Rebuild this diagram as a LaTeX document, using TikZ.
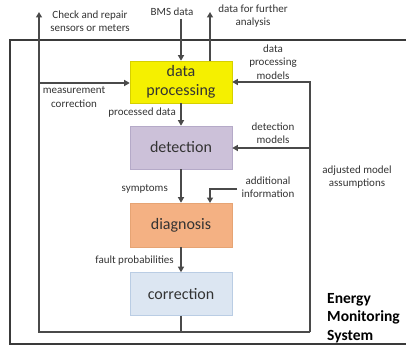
\documentclass[tikz,border=0pt]{standalone}
\usepackage{fontspec}
\setmainfont{Carlito}
\usetikzlibrary{arrows.meta,positioning,calc}
\definecolor{lc}{HTML}{4A4A4A}
\definecolor{fc}{HTML}{3A3A3A}
\definecolor{dpfill}{HTML}{F5F000}
\definecolor{dpdraw}{HTML}{D6D000}
\definecolor{detfill}{HTML}{CCC1D9}
\definecolor{detdraw}{HTML}{B5AAC8}
\definecolor{diagfill}{HTML}{F4B183}
\definecolor{diagdraw}{HTML}{E6A474}
\definecolor{corrfill}{HTML}{DCE6F2}
\definecolor{corrdraw}{HTML}{BACDE4}
\definecolor{tc}{HTML}{333333}
\begin{document}
\begin{tikzpicture}[x=1pt,y=-1pt,
  procbox/.style={rectangle, minimum width=102pt, inner sep=0pt, align=center, text=tc,
     font=\fontsize{16}{19}\selectfont, line width=0.6pt},
  lbl/.style={align=center, text=tc, inner sep=0pt, font=\fontsize{11}{13.5}\selectfont},
  arr/.style={draw=lc, line width=1.4pt, -{Triangle[length=5.5pt,width=6pt]}},
  ln/.style={draw=lc, line width=1.4pt},
  frame/.style={draw=fc, line width=2.5pt}]
\useasboundingbox (0,0) rectangle (406,347);
% outer frame
\coordinate (ftr) at (408,40);
\coordinate (ftl) at (10,40);
\coordinate (fbl) at (10,344);
\coordinate (fbr) at (408,344);
\draw[frame] (ftr) -- (ftl) -- (fbl) -- (fbr);
% boxes
\node[procbox, fill=dpfill, draw=dpdraw, minimum height=42pt] (dp) at (181,82) {data\\processing};
\node[procbox, fill=detfill, draw=detdraw, minimum height=43pt] (det) at (181,147.5) {detection};
\node[procbox, fill=diagfill, draw=diagdraw, minimum height=44pt] (diag) at (181,225) {diagnosis};
\node[procbox, fill=corrfill, draw=corrdraw, minimum height=43pt] (corr) at (181,294) {correction};
% labels
\node[lbl] (chk) at (90,21) {Check and repair\\sensors or meters};
\node[lbl] (bms) at (172,12) {BMS data};
\node[lbl] (further) at (253,16) {data for further\\analysis};
\node[lbl] (meas) at (74,97) {measurement\\correction};
\node[lbl, anchor=east] (procd) at (176,113) {processed data};
\node[lbl] (dpm) at (273,62) {data\\processing\\models};
\node[lbl] (detm) at (273,133) {detection\\models};
\node[lbl, anchor=east] (sym) at (168,189) {symptoms};
\node[lbl] (addi) at (268,187) {additional\\information};
\node[lbl, anchor=east] (fault) at (174,261) {fault probabilities};
\node[lbl] (adj) at (357,177) {adjusted model\\assumptions};
\node[align=left, anchor=west, inner sep=0pt, text=black,
      font=\fontsize{15.5}{18.5}\selectfont\bfseries] (ems) at (327,318) {Energy\\Monitoring\\System};
% coordinates
\coordinate (bmsin) at (181,19);
\coordinate (dpout) at (210,61);
\coordinate (furtherup) at (210,12);
\coordinate (lbot) at (39,332);
\coordinate (ltop) at (39,12);
\coordinate (lmeas) at (39,83);
\coordinate (rbot) at (310,332);
\coordinate (rtop) at (310,82);
\coordinate (rdet) at (310,148);
\coordinate (cbot) at (181,332);
\coordinate (addstart) at (237,189);
\coordinate (addcorner) at (210,189);
\coordinate (addend) at (210,203);
% connectors
\draw[arr] (bmsin) -- (dp.north);
\draw[arr] (dpout) -- (furtherup);
\draw[arr] (dp.south) -- (det.north);
\draw[arr] (det.south) -- (diag.north);
\draw[arr] (diag.south) -- (corr.north);
\draw[ln] (corr.south) -- (cbot);
\draw[arr] (rbot) -- (lbot) -- (ltop);
\draw[arr] (lmeas) -- (dp.west |- lmeas);
\draw[arr] (rbot) -- (rtop) -- (dp.east |- rtop);
\draw[arr] (rdet) -- (det.east |- rdet);
\draw[arr] (addstart) -- (addcorner) -- (addend);
\end{tikzpicture}
\end{document}
